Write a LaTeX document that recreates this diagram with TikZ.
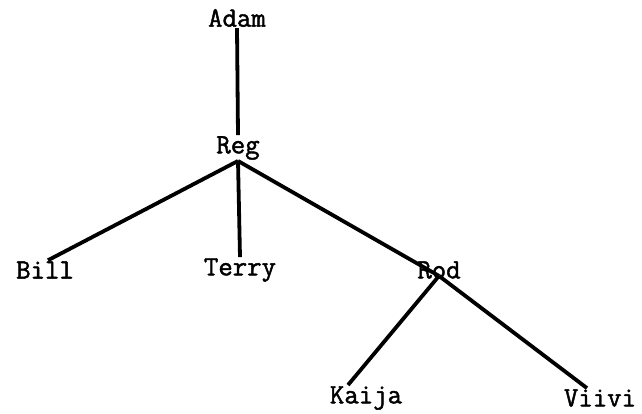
\documentclass[tikz,border=0pt]{standalone}
\usepackage{fontspec}
\newfontfamily\treefont{Latin Modern Mono}[FakeBold=1.6]
\begin{document}
\begin{tikzpicture}[x=1pt,y=-1pt,
    every node/.style={font=\treefont\fontsize{28}{33}\selectfont, inner sep=1pt},
    branch/.style={line width=3.8pt}]
                \useasboundingbox (0,0) rectangle (642,414);
                \node (adam) at (237,18) {Adam};
                \node (reg) at (238,148) {Reg};
                \node (bill) at (45,270) {Bill};
                \node (terry) at (240,270) {Terry};
                \node (rod) at (439,270) {Rod};
                \node (kaija) at (366,398) {Kaija};
                \node (viivi) at (600,398) {Viivi};

                \draw[branch] (adam.south) to (reg.north);
                \draw[branch] (reg.south) to ([xshift=3pt]bill.north);
                \draw[branch] (reg.south) to (terry.north);
                \draw[branch] (reg.south) to ([yshift=4pt]rod.south);
                \draw[branch] ([yshift=4pt]rod.south) to ([xshift=-18pt]kaija.north);
                \draw[branch] ([yshift=4pt]rod.south) to ([xshift=-13pt]viivi.north);
            \end{tikzpicture}
\end{document}
